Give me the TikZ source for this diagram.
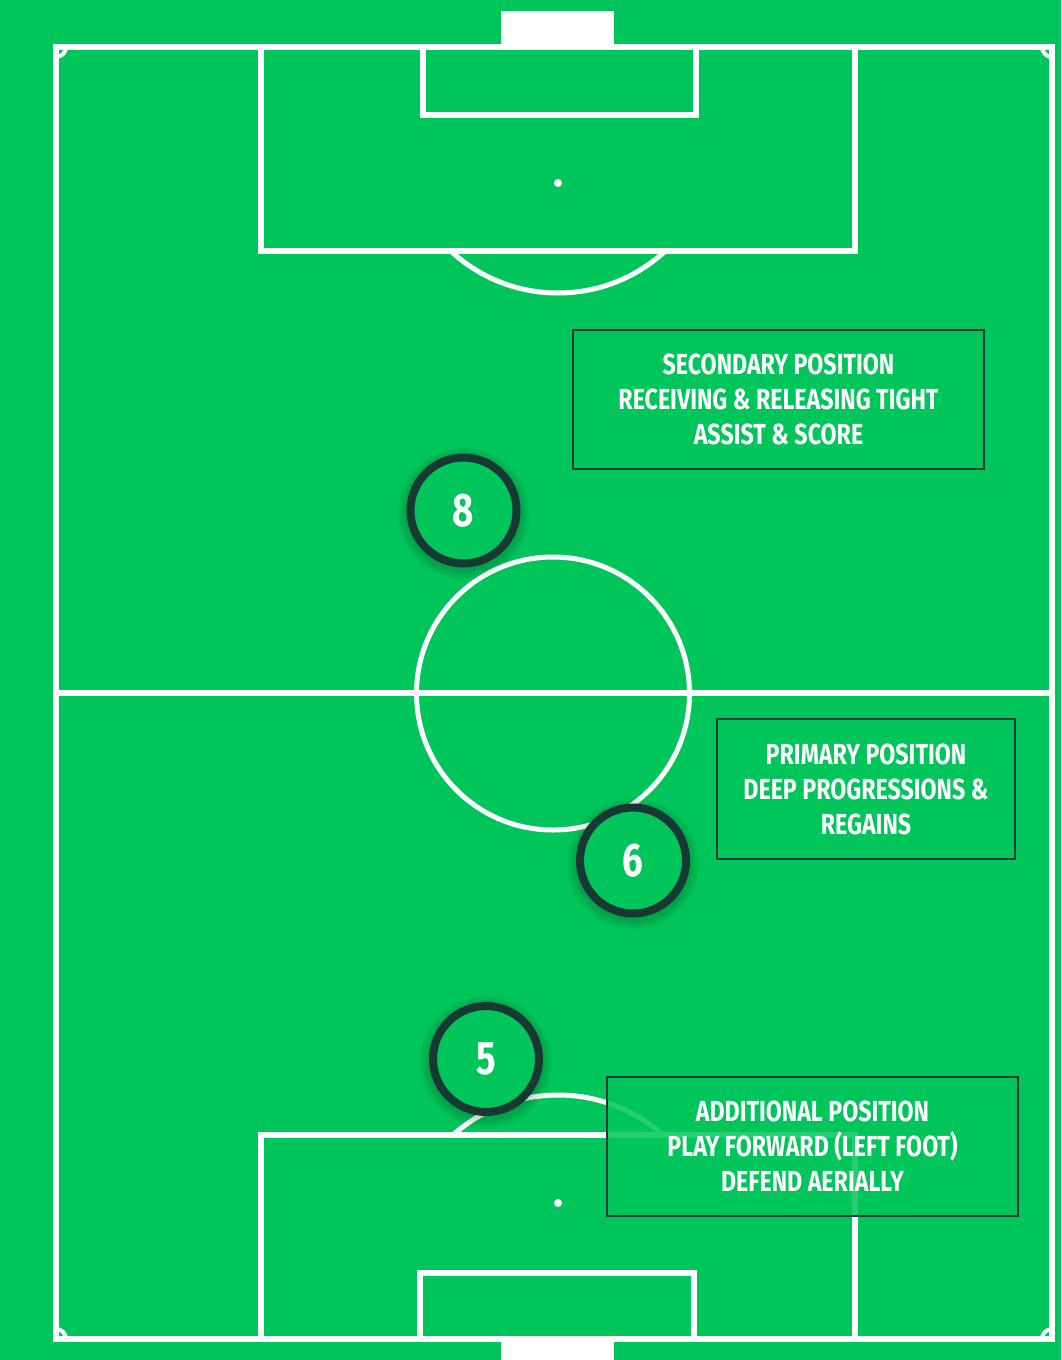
\documentclass[tikz,border=0pt]{standalone}
\usepackage{fontspec}
\newfontfamily\labelfont[FakeStretch=0.80]{Fira Sans Bold}
\newfontfamily\numfont[FakeStretch=0.78]{Fira Sans Bold}
\definecolor{pitch}{RGB}{0,197,90}
\definecolor{darkline}{RGB}{24,56,52}
\tikzset{
  fieldline/.style={draw=white, line width=6pt},
  cornerarc/.style={draw=white, line width=4pt},
  infobox/.style={draw=darkline, line width=2.5pt, fill=pitch, fill opacity=0.85, text opacity=1,
    text=white, align=center, inner sep=0pt,
    font={\labelfont\fontsize{29}{35}\selectfont}},
  player/.style={circle, draw=darkline, line width=8pt, fill=pitch, minimum size=106pt, inner sep=0pt,
    text=white, font={\numfont\fontsize{47}{47}\selectfont}},
}
\begin{document}
\begin{tikzpicture}[x=1pt,y=-1pt]
\fill[pitch] (0,0) rectangle (1061,1360);
\useasboundingbox (0,0) rectangle (1061,1360);
% goals
\fill[white] (501,11) rectangle (614,48);
\fill[white] (501,1338) rectangle (614,1360);
% outer lines
\draw[fieldline] (56,47) rectangle (1052,1339);
\draw[fieldline] (56,693) -- (1052,693);
% corner arcs
\draw[cornerarc] (66,47) arc[start angle=0, end angle=90, radius=10];
\draw[cornerarc] (1042,47) arc[start angle=180, end angle=90, radius=10];
\draw[cornerarc] (66,1339) arc[start angle=0, end angle=-90, radius=10];
\draw[cornerarc] (1042,1339) arc[start angle=180, end angle=270, radius=10];
% top penalty area
\draw[fieldline] (261,47) -- (261,251) -- (855,251) -- (855,47);
\draw[fieldline] (422.5,47) -- (422.5,115) -- (696,115) -- (696,47);
\fill[white] (558,183) circle[radius=4];
\begin{scope}
  \clip (0,254) rectangle (1061,320);
  \draw[fieldline, line width=5pt] (558,135) circle[radius=158];
\end{scope}
% bottom penalty area
\draw[fieldline] (261,1339) -- (261,1135) -- (855,1135) -- (855,1339);
\draw[fieldline] (420,1339) -- (420,1272.5) -- (694,1272.5) -- (694,1339);
\fill[white] (558,1203) circle[radius=4];
\begin{scope}
  \clip (0,1060) rectangle (1061,1132);
  \draw[fieldline, line width=5pt] (558,1253) circle[radius=158];
\end{scope}
% centre circle
\draw[fieldline, line width=5pt] (553,693.5) circle[radius=136.5];
% info boxes
\node[infobox, minimum width=411pt, minimum height=139pt] (secondary) at (778.5,399.5)
  {SECONDARY POSITION\\RECEIVING \& RELEASING TIGHT\\ASSIST \& SCORE};
\node[infobox, minimum width=298pt, minimum height=140pt] (primary) at (866,789)
  {PRIMARY POSITION\\DEEP PROGRESSIONS \&\\REGAINS};
\node[infobox, minimum width=411pt, minimum height=139pt] (additional) at (812.5,1146.5)
  {ADDITIONAL POSITION\\PLAY FORWARD (LEFT FOOT)\\DEFEND AERIALLY};
% shadows
\foreach \px/\py in {463.5/510.5, 633/860.5, 486/1059}{
  \foreach \r in {58,60,62,64,66}{
    \fill[black, opacity=0.035] (\px,\py+3) circle[radius=\r];
  }
}
% players
\node[player] (p8) at (463.5,510.5) {8};
\node[player] (p6) at (633,860.5) {6};
\node[player] (p5) at (486,1059) {5};
\end{tikzpicture}
\end{document}
